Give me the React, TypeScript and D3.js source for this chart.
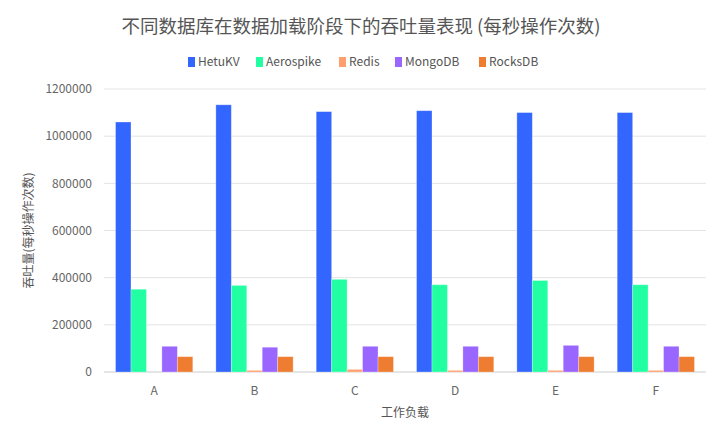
import React from 'react';
import * as d3 from 'd3';

const categories = ['A', 'B', 'C', 'D', 'E', 'F'];
const seriesNames = ['HetuKV', 'Aerospike', 'Redis', 'MongoDB', 'RocksDB'];
const seriesColors = ['#3366ff', '#22ffa2', '#ff9f6e', '#9966ff', '#ee7d31'];

const hetuKV = [1060000, 1133000, 1104000, 1108000, 1100000, 1100000];
const aerospike = [351000, 367000, 393000, 370000, 388000, 370000];
const redis = [0, 7000, 11000, 7000, 7000, 7000];
const mongoDB = [109000, 105000, 109000, 109000, 113000, 109000];
const rocksDB = [65000, 65000, 65000, 65000, 65000, 65000];

const yTicks = [0, 200000, 400000, 600000, 800000, 1000000, 1200000];

const seriesValues = [hetuKV, aerospike, redis, mongoDB, rocksDB];

const font = '"Noto Sans CJK SC", "Noto Sans", sans-serif';

const App: React.FC = () => {
  const width = 720;
  const height = 440;
  const margin = { top: 89, right: 14, bottom: 68, left: 104 };
  const plotRight = width - margin.right;
  const plotBottom = height - margin.bottom;

  const x0 = d3.scaleBand<string>().domain(categories).range([margin.left, plotRight]).padding(0);
  const gap = x0.bandwidth() * 0.115;
  const x1 = d3.scaleBand<string>().domain(seriesNames).range([gap, x0.bandwidth() - gap]).padding(0);
  const y = d3.scaleLinear().domain([0, 1200000]).range([plotBottom, margin.top]);

  // legend layout
  const legendX = [188, 256, 339, 395, 479];

  return (
    <svg width={width} height={height} style={{ position: 'absolute', left: 0, top: 0, background: '#fff' }}
      fontFamily={font}>
      <text x={361} y={33} textAnchor="middle" fontSize={18.5} fill="#555">
        不同数据库在数据加载阶段下的吞吐量表现 (每秒操作次数)
      </text>

      {seriesNames.map((name, i) => (
        <g key={name} transform={`translate(${legendX[i]},62)`}>
          <rect x={0} y={-5} width={7} height={10} fill={seriesColors[i]} />
          <text x={10} y={0} dy="0.35em" fontSize={12} fill="#555">{name}</text>
        </g>
      ))}

      {yTicks.map(t => (
        <g key={t}>
          <line x1={margin.left} x2={plotRight} y1={y(t)} y2={y(t)}
            stroke={t === 0 ? '#cccccc' : '#e3e3e3'} strokeWidth={1} />
          <text x={92} y={y(t)} dy="0.35em" textAnchor="end" fontSize={12} fill="#666">{t}</text>
        </g>
      ))}

      {categories.map((c, ci) => (
        <g key={c} transform={`translate(${x0(c)},0)`}>
          {seriesNames.map((s, si) => {
            const v = seriesValues[si][ci];
            if (!v) return null;
            return (
              <rect key={s} x={x1(s)} y={y(v)} width={x1.bandwidth()} height={plotBottom - y(v)}
                fill={seriesColors[si]} stroke="rgba(255,255,255,0.35)" strokeWidth={0.8} />
            );
          })}
          <text x={x0.bandwidth() / 2} y={plotBottom + 19} dy="0.35em" textAnchor="middle" fontSize={12} fill="#666">{c}</text>
        </g>
      ))}

      <text x={(margin.left + plotRight) / 2} y={413} dy="0.35em" textAnchor="middle" fontSize={12} fill="#555">工作负载</text>
      <text transform={`translate(29,${(margin.top + plotBottom) / 2}) rotate(-90)`} dy="0.35em" textAnchor="middle"
        fontSize={12} fill="#555">吞吐量(每秒操作次数)</text>
    </svg>
  );
};

export default App;
